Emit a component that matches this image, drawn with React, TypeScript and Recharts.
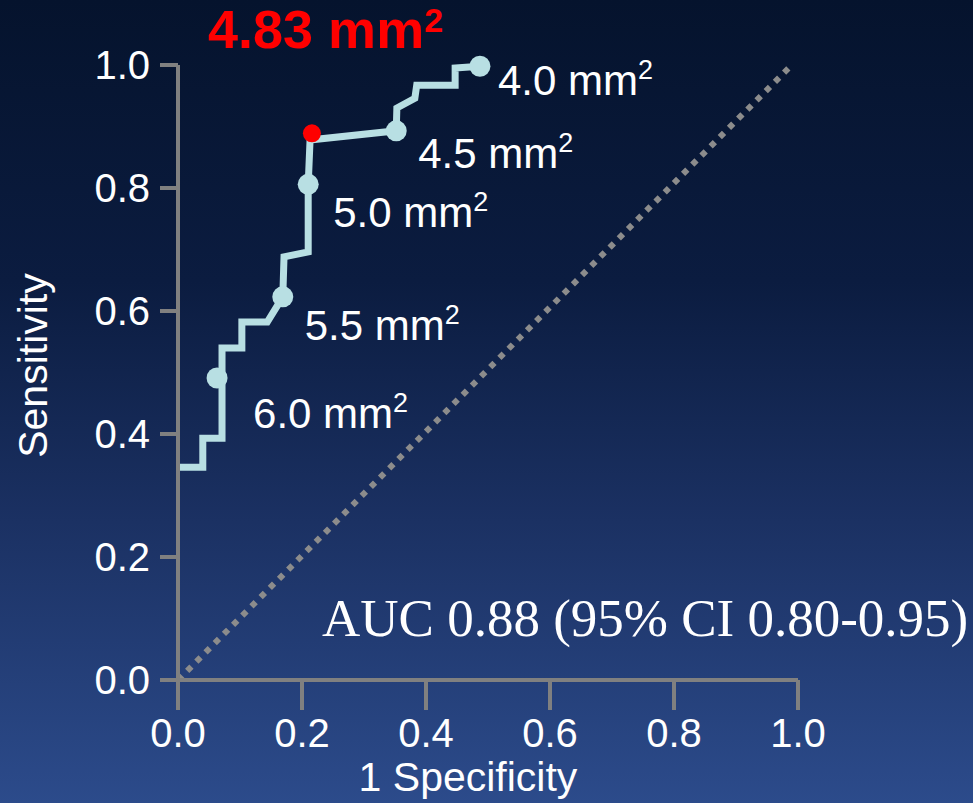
// ROC 曲线：面积阈值对应的灵敏度 / 1-特异度
// 阶梯曲线 + 各阈值标记点 + 最佳截断值（红点）+ 对角参考线

import { ComposedChart, Line, Scatter, XAxis, YAxis } from 'recharts'

// ─────────────────────────────────────────────────────────────
// 数据
// ─────────────────────────────────────────────────────────────

// 曲线顶点：x = 1 - 特异度，y = 灵敏度
const rocFpr = [0, 0.04, 0.04, 0.071, 0.071, 0.071, 0.103, 0.103, 0.144, 0.169, 0.171, 0.21, 0.21, 0.213, 0.352, 0.353, 0.382, 0.385, 0.447, 0.447, 0.487]
const rocTpr = [0.346, 0.346, 0.393, 0.393, 0.491, 0.54, 0.54, 0.582, 0.582, 0.623, 0.688, 0.696, 0.806, 0.878, 0.893, 0.93, 0.946, 0.967, 0.967, 0.995, 0.998]

// 阈值标记（mm²）
const cutoffNames = ['6.0', '5.5', '5.0', '4.5', '4.0']
const cutoffFpr   = [0.063, 0.169, 0.21, 0.352, 0.487]
const cutoffTpr   = [0.491, 0.623, 0.806, 0.893, 0.998]

// 最佳截断值
const bestName = '4.83'
const bestFpr  = [0.216]
const bestTpr  = [0.889]

// 随机参考线
const chanceFpr = [0, 0.99]
const chanceTpr = [0, 1]

const axisTicks = [0, 0.2, 0.4, 0.6, 0.8, 1]
const aucText   = 'AUC 0.88 (95% CI 0.80-0.95)'

// 阈值文字相对标记点的偏移（像素，基线）
const labelDx = [36, 22, 25, 22, 18]
const labelDy = [50, 43, 43, 37, 29]

const W = 973
const H = 803
const CURVE = '#b8dfe3'
const AXIS  = '#808080'
const SANS  = '"Liberation Sans", Arial, sans-serif'
const SERIF = '"Liberation Serif", "Times New Roman", serif'

const rocData    = rocFpr.map((x, i) => ({ x, y: rocTpr[i] }))
const cutoffData = cutoffFpr.map((x, i) => ({ x, y: cutoffTpr[i], name: cutoffNames[i] }))
const bestData   = bestFpr.map((x, i) => ({ x, y: bestTpr[i] }))
const chanceData = chanceFpr.map((x, i) => ({ x, y: chanceTpr[i] }))

// ─────────────────────────────────────────────────────────────
// 标记点 + “x.x mm²” 文字
// ─────────────────────────────────────────────────────────────
function CutoffMarker(props: any) {
  const { cx, cy, payload } = props
  const i = cutoffNames.indexOf(payload.name)
  return (
    <g>
      <circle cx={cx} cy={cy} r={10.5} fill={CURVE} />
      <text
        x={cx + labelDx[i]}
        y={cy + labelDy[i]}
        fill="#fff"
        fontSize={42}
        fontFamily={SANS}
      >
        {payload.name} mm
        <tspan fontSize={27} dy={-16}>2</tspan>
      </text>
    </g>
  )
}

function BestMarker(props: any) {
  const { cx, cy } = props
  return <circle cx={cx} cy={cy} r={9} fill="#ff0000" />
}

function XTitle(props: any) {
  const { viewBox } = props
  const cx = viewBox.x + viewBox.width / 2 - 20
  return (
    <text x={cx} y={viewBox.y + 111} textAnchor="middle" fill="#fff" fontSize={41} fontFamily={SANS}>
      1 Specificity
    </text>
  )
}

function YTitle(props: any) {
  const { viewBox } = props
  const cy = viewBox.y + viewBox.height / 2 - 7
  return (
    <text
      x={47}
      y={cy}
      transform={`rotate(-90 47 ${cy})`}
      textAnchor="middle"
      fill="#fff"
      fontSize={41}
      fontFamily={SANS}
    >
      Sensitivity
    </text>
  )
}

// ─────────────────────────────────────────────────────────────
// 主组件
// ─────────────────────────────────────────────────────────────
export default function App() {
  const tickStyle = { fill: '#fff', fontSize: 40, fontFamily: SANS }

  return (
    <div
      style={{
        position: 'absolute',
        left: 0,
        top: 0,
        width: W,
        height: H,
        overflow: 'hidden',
        background: 'linear-gradient(to bottom, #05132d 0%, #0b1c40 35%, #1b3163 65%, #2c4b8b 100%)',
      }}
    >
      <ComposedChart
        width={W}
        height={H}
        margin={{ top: 65, right: 175, bottom: 8, left: 78 }}
      >
        <XAxis
          type="number"
          dataKey="x"
          domain={[0, 1]}
          ticks={axisTicks}
          tickFormatter={(v: number) => v.toFixed(1)}
          height={115}
          stroke={AXIS}
          axisLine={{ stroke: AXIS, strokeWidth: 4 }}
          tickLine={{ stroke: AXIS, strokeWidth: 4 }}
          tickSize={30}
          tickMargin={9}
          tick={tickStyle}
          label={<XTitle />}
        />
        <YAxis
          type="number"
          dataKey="y"
          domain={[0, 1]}
          ticks={axisTicks}
          tickFormatter={(v: number) => v.toFixed(1)}
          width={100}
          stroke={AXIS}
          axisLine={{ stroke: AXIS, strokeWidth: 4 }}
          tickLine={{ stroke: AXIS, strokeWidth: 4 }}
          tickSize={18}
          tickMargin={10}
          tick={tickStyle}
          label={<YTitle />}
        />

        <Line
          data={chanceData}
          dataKey="y"
          type="linear"
          stroke="#8c8c8c"
          strokeWidth={6}
          strokeDasharray="6 7"
          dot={false}
          activeDot={false}
          isAnimationActive={false}
        />
        <Line
          data={rocData}
          dataKey="y"
          type="linear"
          stroke={CURVE}
          strokeWidth={7}
          strokeLinejoin="miter"
          dot={false}
          activeDot={false}
          isAnimationActive={false}
        />
        <Scatter data={cutoffData} dataKey="y" shape={<CutoffMarker />} isAnimationActive={false} />
        <Scatter data={bestData} dataKey="y" shape={<BestMarker />} isAnimationActive={false} />
      </ComposedChart>

      {/* 最佳截断值标题 */}
      <svg
        width={W}
        height={70}
        style={{ position: 'absolute', left: 0, top: 0, pointerEvents: 'none' }}
      >
        <text x={208} y={48} fill="#ff0000" fontFamily={SANS} fontWeight="bold" fontSize={54}>
          {bestName} mm
          <tspan fontSize={34} dy={-16}>2</tspan>
        </text>
      </svg>

      {/* AUC */}
      <div
        style={{
          position: 'absolute',
          left: 322,
          top: 588,
          color: '#fff',
          fontFamily: SERIF,
          fontSize: 53,
          lineHeight: '60px',
          whiteSpace: 'nowrap',
        }}
      >
        {aucText}
      </div>
    </div>
  )
}
